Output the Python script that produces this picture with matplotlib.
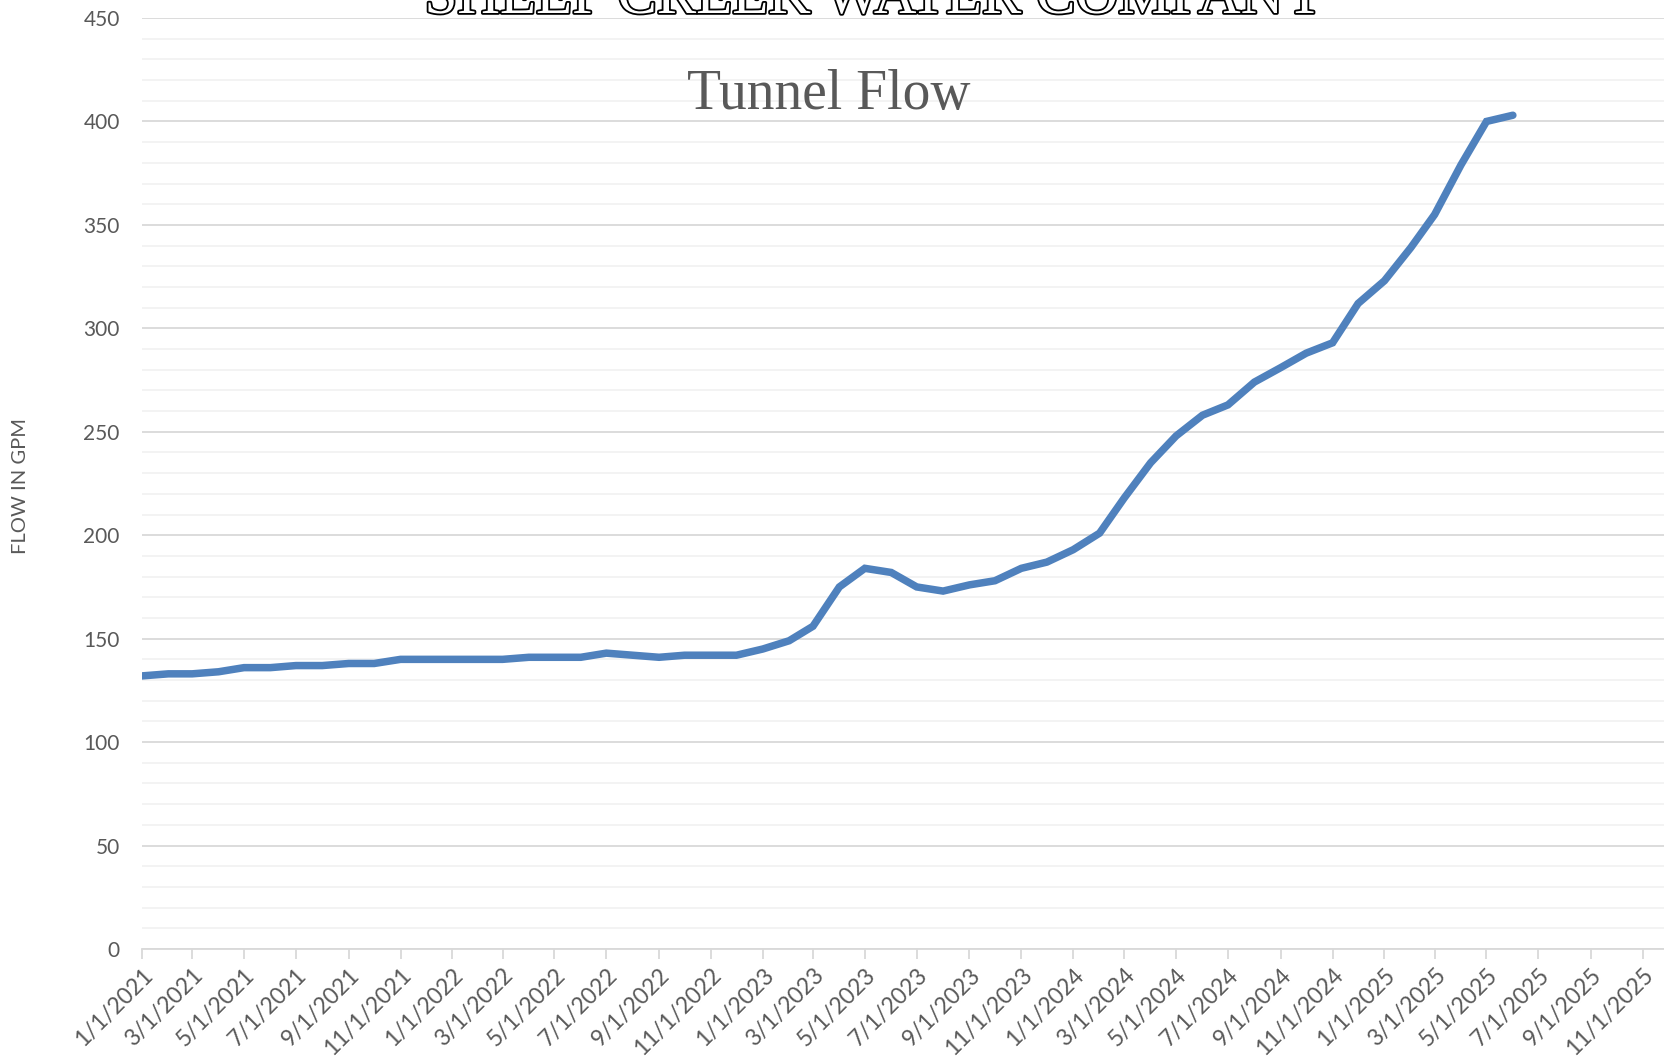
import datetime as dt

import matplotlib

matplotlib.use("Agg")
import matplotlib.dates as mdates
import matplotlib.patheffects as pe
import matplotlib.pyplot as plt
from matplotlib.ticker import FuncFormatter, MultipleLocator

# monthly tunnel flow readings, 1/1/2021 .. 6/1/2025
start_year = 2021
flow_gpm = [
    132, 133, 133, 134, 136, 136, 137, 137, 138, 138, 140, 140,  # 2021
    140, 140, 140, 141, 141, 141, 143, 142, 141, 142, 142, 142,  # 2022
    145, 149, 156, 175, 184, 182, 175, 173, 176, 178, 184, 187,  # 2023
    193, 201, 218, 235, 248, 258, 263, 274, 281, 288, 293, 312,  # 2024
    323, 339, 355, 379, 400, 403,                                # 2025
]
dates = [dt.date(start_year + i // 12, i % 12 + 1, 1) for i in range(len(flow_gpm))]

title = "SHEEP CREEK WATER COMPANY"
subtitle = "Tunnel Flow"
y_label = "FLOW IN GPM"

W, H = 1664, 1057
fig = plt.figure(figsize=(W / 100, H / 100), dpi=100)
fig.patch.set_facecolor("white")

# plot area runs a little past the right edge, as in the cropped original
left, right, top, bottom = 142, 1694, 18, 949
ax = fig.add_axes([left / W, 1 - bottom / H, (right - left) / W, (bottom - top) / H])

ax.plot(dates, flow_gpm, color="#4f81bd", linewidth=5.4, solid_capstyle="round",
        solid_joinstyle="miter", zorder=3)

ax.set_xlim(dt.date(2021, 1, 1), dt.date(2025, 12, 31))
ax.set_ylim(0, 450)

ax.yaxis.set_major_locator(MultipleLocator(50))
ax.yaxis.set_minor_locator(MultipleLocator(10))
ax.grid(True, which="major", axis="y", color="#d9d9d9", linewidth=1.3)
ax.grid(True, which="minor", axis="y", color="#f2f2f2", linewidth=1.3)
ax.set_axisbelow(True)


def us_date(v, _):
    d = mdates.num2date(v)
    return f"{d.month}/{d.day}/{d.year}"


ax.xaxis.set_major_locator(mdates.MonthLocator(bymonth=[1, 3, 5, 7, 9, 11]))
ax.xaxis.set_major_formatter(FuncFormatter(us_date))

for s in ("top", "right", "left"):
    ax.spines[s].set_visible(False)
ax.spines["bottom"].set_color("#d9d9d9")
ax.spines["bottom"].set_linewidth(1.3)

ax.tick_params(axis="y", which="both", length=0, pad=16, labelsize=15, labelcolor="#595959")
ax.tick_params(axis="x", length=7, width=1.3, color="#d9d9d9", pad=4,
               labelsize=16.5, labelcolor="#595959")
for lab in ax.get_yticklabels():
    lab.set_family("Lato")
for lab in ax.get_xticklabels():
    lab.set_family("Lato")
    lab.set_rotation(45)
    lab.set_ha("right")
    lab.set_va("top")
    lab.set_rotation_mode("anchor")

fig.text(875 / W, 1 - 13 / H, title, ha="center", va="baseline", fontsize=42.5,
         family="Liberation Serif", color="white",
         path_effects=[pe.withStroke(linewidth=2.6, foreground="black")])
fig.text(829 / W, 1 - 109 / H, subtitle, ha="center", va="baseline", fontsize=40,
         family="Liberation Serif", color="#595959")
fig.text(21 / W, 1 - 486 / H, y_label, rotation=90, ha="center", va="center",
         fontsize=14.5, family="Lato", color="#595959")

fig.savefig("out.png", dpi=100)
